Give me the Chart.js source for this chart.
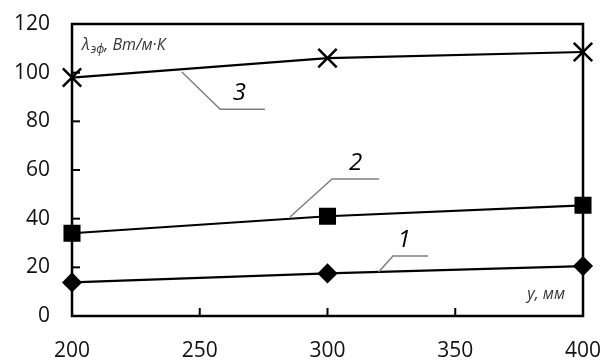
<!DOCTYPE html>
<html>
<head>
<meta charset="utf-8">
<script src="https://cdn.jsdelivr.net/npm/chart.js@4"></script>
<style>
  body { margin: 0; background: #fff; }
  #wrap { width: 605px; height: 360px; }
</style>
</head>
<body>
<div id="wrap"><canvas id="myChart"></canvas></div>
<script>
// данные
const yPos = [200, 300, 400];          // y, мм
const curve1 = [13.8, 17.5, 20.5];     // кривая 1
const curve2 = [34, 41, 45.5];         // кривая 2
const curve3 = [98, 106, 108.5];       // кривая 3

// выноски с номерами кривых (в координатах осей)
const leaders = [
    { text: '1', line: [[320, 18.1], [325.6, 24.7], [339.3, 24.7]], at: [330, 31] },
    { text: '2', line: [[285.3, 40.7], [301.8, 56.3], [320.2, 56.3]], at: [311, 63] },
    { text: '3', line: [[243, 100.3], [258, 85], [275.5, 85]], at: [265.5, 91.5] }
];

const toPts = (arr) => arr.map((v, i) => ({ x: yPos[i], y: v }));

const frame = {
    id: 'frame',
    afterDatasetsDraw(chart) {
        const { ctx, chartArea: a, scales } = chart;
        const xs = scales.x, ys = scales.y;
        ctx.save();
        // рамка
        ctx.strokeStyle = '#000';
        ctx.lineWidth = 2.5;
        ctx.strokeRect(a.left, a.top, a.right - a.left, a.bottom - a.top);
        // засечки внутрь
        ctx.lineWidth = 2;
        ys.ticks.forEach(t => {
            const py = ys.getPixelForValue(t.value);
            ctx.beginPath(); ctx.moveTo(a.left, py); ctx.lineTo(a.left + 8, py); ctx.stroke();
        });
        xs.ticks.forEach(t => {
            const px = xs.getPixelForValue(t.value);
            ctx.beginPath(); ctx.moveTo(px, a.bottom); ctx.lineTo(px, a.bottom - 8); ctx.stroke();
        });
        // выноски
        leaders.forEach(l => {
            ctx.strokeStyle = '#7f7f7f';
            ctx.lineWidth = 1.5;
            ctx.beginPath();
            l.line.forEach((p, i) => {
                const px = xs.getPixelForValue(p[0]), py = ys.getPixelForValue(p[1]);
                if (i === 0) ctx.moveTo(px, py); else ctx.lineTo(px, py);
            });
            ctx.stroke();
            ctx.fillStyle = '#000';
            ctx.font = 'italic 24px "Open Sans"';
            ctx.textAlign = 'center';
            ctx.textBaseline = 'middle';
            ctx.fillText(l.text, xs.getPixelForValue(l.at[0]), ys.getPixelForValue(l.at[1]));
        });
        // подписи осей
        ctx.fillStyle = '#333';
        ctx.textAlign = 'left';
        ctx.textBaseline = 'alphabetic';
        let x = a.left + 10;
        const base = a.top + 26;
        ctx.font = 'italic 16px "Open Sans"';
        ctx.fillText('λ', x, base);
        x += ctx.measureText('λ').width + 1;
        ctx.font = 'italic 12px "Open Sans"';
        ctx.fillText('эф', x, base + 3);
        x += ctx.measureText('эф').width;
        ctx.font = 'italic 16px "Open Sans"';
        ctx.fillText(', Вт/м·К', x, base);
        ctx.textAlign = 'right';
        ctx.fillText('y, мм', a.right - 18, a.bottom - 17);
        ctx.restore();
    }
};

const ctx = document.getElementById('myChart').getContext('2d');
const myChart = new Chart(ctx, {
    type: 'line',
    data: {
        datasets: [{
            label: '1',
            data: toPts(curve1),
            borderColor: '#000',
            backgroundColor: '#000',
            borderWidth: 2.2,
            pointStyle: 'rectRot',
            pointRadius: 8.5,
            clip: false
        }, {
            label: '2',
            data: toPts(curve2),
            borderColor: '#000',
            backgroundColor: '#000',
            borderWidth: 2.2,
            pointStyle: 'rect',
            pointRadius: 10.5,
            clip: false
        }, {
            label: '3',
            data: toPts(curve3),
            borderColor: '#000',
            backgroundColor: '#000',
            borderWidth: 2.2,
            pointStyle: 'crossRot',
            pointRadius: 13,
            pointBorderWidth: 2.5,
            clip: false
        }]
    },
    options: {
        responsive: true,
        maintainAspectRatio: false,
        animation: false,
        layout: { padding: { left: 12, right: 22, top: 24, bottom: 0 } },
        plugins: { legend: { display: false }, tooltip: { enabled: false } },
        scales: {
            x: {
                type: 'linear',
                min: 200, max: 400,
                grid: { display: false, drawTicks: false },
                border: { display: false },
                afterFit(scale) {
                    scale.height = 44;
                    scale.paddingLeft = 0;
                    scale.paddingRight = 0;
                },
                ticks: { stepSize: 50, padding: 22, color: '#111', font: { family: 'Open Sans', size: 21 } }
            },
            y: {
                min: 0, max: 120,
                grid: { display: false, drawTicks: false },
                border: { display: false },
                afterFit(scale) {
                    scale.width = 60;
                    scale.paddingTop = 0;
                    scale.paddingBottom = 0;
                },
                ticks: { stepSize: 20, padding: 22, color: '#111', font: { family: 'Open Sans', size: 21 } }
            }
        }
    },
    plugins: [frame]
});
</script>
</body>
</html>
